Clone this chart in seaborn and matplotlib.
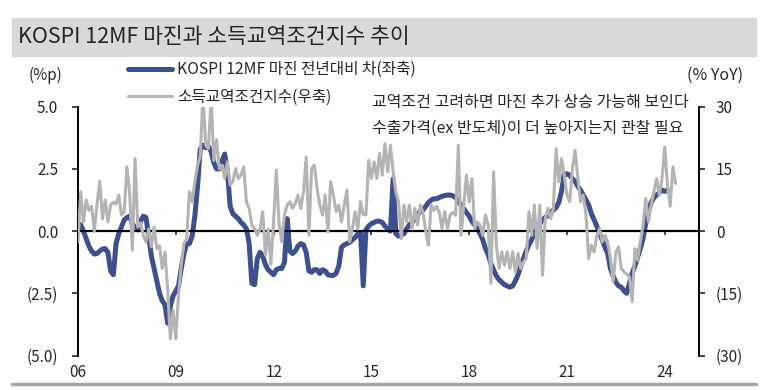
import numpy as np
import pandas as pd
import matplotlib
matplotlib.use("Agg")
import matplotlib.pyplot as plt
from matplotlib.patches import Rectangle
from matplotlib.lines import Line2D
from matplotlib.ticker import FuncFormatter
import seaborn as sns

# monthly values from Jan 2006
margin_chg = [  # KOSPI 12MF margin, yoy change (%p, left axis)
    0.3, 0.25, 0.0, -0.3, -0.6, -0.8, -0.92, -0.9, -0.8, -0.72, -0.7, -0.85,
    -1.6, -1.75, -0.5, -0.1, 0.17, 0.45, 0.55, 0.6, 0.3, 0.15, 0.05, 0.4,
    0.6, 0.55, -0.2, -1.0, -1.5, -2.0, -2.5, -2.8, -2.95, -3.7, -3.0, -2.6,
    -2.4, -2.2, -1.5, -0.9, -0.5, -0.5, -0.2, 0.6, 1.8, 3.3, 3.45, 3.35,
    3.4, 3.2, 2.75, 2.5, 2.5, 2.8, 3.1, 2.4, 1.0, 0.7, 0.6, 0.5,
    0.35, 0.25, 0.1, -0.5, -2.1, -2.15, -1.1, -0.85, -1.0, -1.35, -1.55, -1.65,
    -1.75, -1.55, -1.5, -1.5, -1.25, 0.5, -0.8, -0.9, -0.8, -0.6, -0.5, -0.55,
    -0.85, -1.6, -1.65, -1.55, -1.55, -1.7, -1.55, -1.6, -1.75, -1.78, -1.78, -1.7,
    -1.4, -0.65, -0.55, -0.5, -0.45, -0.35, -0.25, -0.12, -0.05, -2.2, 0.05, 0.2,
    0.3, 0.35, 0.4, 0.4, 0.35, 0.2, 0.1, 0.0, 2.1, -0.1, -0.2, -0.15,
    -0.1, 0.1, 0.25, 0.35, 0.5, 0.65, 0.8, 0.85, 1.0, 1.15, 1.25, 1.3,
    1.3, 1.35, 1.4, 1.43, 1.45, 1.45, 1.42, 1.35, 1.2, 1.05, 0.9, 0.75,
    0.6, 0.4, 0.25, 0.1, -0.1, -0.35, -0.7, -0.95, -1.3, -1.55, -1.8, -1.95,
    -2.05, -2.15, -2.2, -2.25, -2.2, -2.0, -1.75, -1.4, -1.1, -0.8, -0.55, -0.35,
    -0.05, 0.15, 0.3, 0.45, 0.55, 0.65, 0.75, 0.85, 0.95, 1.15, 1.6, 2.3,
    2.3, 2.25, 2.1, 2.0, 1.8, 1.65, 1.45, 1.25, 1.05, 0.7, 0.45, 0.2,
    -0.1, -0.35, -0.65, -0.9, -1.5, -1.8, -2.05, -2.2, -2.25, -2.4, -2.5, -2.1,
    -1.7, -1.4, -1.05, -0.7, -0.3, 0.3, 0.8, 1.15, 1.35, 1.45, 1.55, 1.65,
    1.6, 1.65,
]

income_tot = [  # income terms of trade index, % YoY (right axis)
    -2.5, 9.5, 2.2, 7.5, 5.0, 6.0, 0.0, 6.5, 12.0, 3.0, 7.5, 2.2,
    6.3, 7.0, 6.5, 8.7, 3.9, 4.7, 15.5, 9.0, -4.6, 17.5, 1.0, 2.0,
    -1.0, -2.6, 0.5, -3.8, 1.0, -4.2, -3.5, -9.0, -5.0, -14.0, -26.0, -19.0,
    -25.9, -15.4, -8.2, -3.0, -1.8, 9.5, 7.0, 11.9, 15.9, 18.0, 33.0, 20.7,
    19.9, 32.0, 17.0, 22.0, 15.0, 15.9, 12.7, 16.7, 11.1, 11.9, 15.1, 12.7,
    13.5, 15.5, 7.0, 5.5, 1.4, 0.6, -1.0, 0.6, 4.7, -5.8, 0.5, -8.0,
    2.2, 14.7, 2.0, -2.6, 3.9, 6.3, 7.1, 5.5, 6.7, 8.7, 5.5, 9.5,
    17.9, -1.0, 15.1, 15.9, 10.3, 6.3, 3.9, 8.7, -0.2, 11.9, 8.7, 4.7,
    6.3, 2.2, 6.3, 9.9, -2.6, 0.5, 4.7, 0.5, 7.1, 4.0, 3.9, 17.1,
    12.7, 16.7, 12.7, 18.7, 13.5, 21.1, 14.3, 20.7, 14.3, 9.5, 7.1, -1.8,
    6.3, 2.2, 6.3, 0.5, 5.5, 1.5, 6.3, 4.5, 0.0, -3.4, 6.3, 5.0,
    6.0, 4.5, 0.6, 4.7, 0.6, 3.9, 4.5, 3.8, 20.7, -1.0, 6.3, 13.5,
    7.1, 12.7, 0.6, 2.2, 1.4, -1.0, 3.9, 1.5, -12.6, 14.3, -3.4, -9.0,
    -5.0, -8.2, -5.0, -9.0, -5.0, -9.8, -5.4, -9.0, -7.4, -6.6, 4.7, -1.0,
    6.3, -4.2, 6.3, -10.6, 3.0, 5.5, 3.0, 5.5, 19.9, 11.9, 17.5, 13.5,
    8.7, 7.1, 15.1, 19.5, 12.7, 7.1, 8.7, 3.9, -6.6, -3.4, -5.0, -1.0,
    0.6, -2.6, -1.0, -2.6, -6.6, -12.2, -5.0, -3.8, -9.0, -9.8, -10.4, -11.0,
    -17.0, -4.2, -7.0, -2.6, 1.4, 7.9, 2.2, 6.3, 9.5, 12.7, 8.7, 12.7,
    20.3, 11.1, 6.0, 15.5, 11.5,
]

year_ticks = [2006, 2009, 2012, 2015, 2018, 2021, 2024]
year_labels = ["06", "09", "12", "15", "18", "21", "24"]
left_ticks = [5.0, 2.5, 0.0, -2.5, -5.0]
right_ticks = [30, 15, 0, -15, -30]

title = "KOSPI 12MF 마진과 소득교역조건지수 추이"
label_margin = "KOSPI 12MF 마진 전년대비 차(좌축)"
label_tot = "소득교역조건지수(우축)"
note = ["교역조건 고려하면 마진 추가 상승 가능해 보인다",
        "수출가격(ex 반도체)이 더 높아지는지 관찰 필요"]

BLUE = "#3d4f8e"
GRAY = "#b4b4b4"

df_m = pd.DataFrame({"year": 2006 + np.arange(len(margin_chg)) / 12, "val": margin_chg})
df_t = pd.DataFrame({"year": 2006 + np.arange(len(income_tot)) / 12, "val": income_tot})

sns.set_style("ticks")
plt.rcParams["font.family"] = ["Noto Sans CJK KR", "DejaVu Sans"]

fig = plt.figure(figsize=(7.68, 3.9), dpi=100)

# title bar
fig.patches.append(Rectangle((12 / 768, 1 - 56 / 390), 744 / 768, 38 / 390,
                             transform=fig.transFigure, color="#d9d9d9", zorder=0))
fig.text(18 / 768, 1 - 37 / 390, title, fontsize=15.5, va="center", ha="left")
# bottom rule
fig.add_artist(Line2D([12 / 768, 756 / 768], [1 - 384 / 390] * 2, transform=fig.transFigure,
                      color="#a6a6a6", lw=2.5))

ax = fig.add_axes([77.7 / 768, 1 - 355.6 / 390, 621.6 / 768, 248.9 / 390])
ax2 = ax.twinx()

sns.lineplot(data=df_m, x="year", y="val", ax=ax, color=BLUE, lw=3.6, legend=False)
sns.lineplot(data=df_t, x="year", y="val", ax=ax2, color=GRAY, lw=2.2, legend=False)

ax.set_xlim(2005.99, 2025.06)
ax.set_ylim(-5, 5)
ax2.set_ylim(-30, 30)
ax.set_xlabel("")
ax.set_ylabel("")
ax2.set_ylabel("")

for s in ["top", "right"]:
    ax.spines[s].set_visible(False)
for s in ["top", "left", "bottom"]:
    ax2.spines[s].set_visible(False)
ax.spines["bottom"].set_position(("data", 0))
ax.spines["bottom"].set_linewidth(1.6)
ax.spines["left"].set_linewidth(1.4)
ax2.spines["right"].set_linewidth(1.4)
for s in ["bottom", "left"]:
    ax.spines[s].set_color("black")
ax2.spines["right"].set_color("black")

ax.set_xticks(year_ticks)
ax.tick_params(axis="x", direction="out", length=3, width=1.2, labelbottom=False)
ax.set_yticks(left_ticks)
ax.yaxis.set_major_formatter(FuncFormatter(lambda v, p: f"({abs(v):.1f})" if v < 0 else f"{v:.1f}"))
ax.tick_params(axis="y", direction="out", length=4, width=1.2, labelsize=11, pad=10)
ax2.set_yticks(right_ticks)
ax2.yaxis.set_major_formatter(FuncFormatter(lambda v, p: f"({abs(v):.0f})" if v < 0 else f"{v:.0f}"))
ax2.tick_params(axis="y", direction="out", length=4, width=1.2, labelsize=11, pad=8)

# year labels below the plot
sec = ax.secondary_xaxis(0.0)
sec.set_xticks(year_ticks)
sec.set_xticklabels(year_labels)
sec.tick_params(axis="x", length=0, labelsize=11, pad=6)
sec.spines["bottom"].set_visible(False)

fig.text(45 / 768, 1 - 75 / 390, "(%p)", fontsize=11, ha="center", va="center")
fig.text(715 / 768, 1 - 75 / 390, "(% YoY)", fontsize=11.5, ha="center", va="center")

handles = [Line2D([], [], color=BLUE, lw=3.6), Line2D([], [], color=GRAY, lw=2.2)]
fig.legend(handles, [label_margin, label_tot], loc="upper left",
           bbox_to_anchor=(128 / 768, 1 - 61 / 390), frameon=False, fontsize=11.3,
           handlelength=2.8, handletextpad=0.35, labelspacing=0.68,
           borderpad=0, borderaxespad=0)

fig.text(372 / 768, 1 - 103 / 390, note[0], fontsize=11.5, ha="left", va="center")
fig.text(372 / 768, 1 - 128 / 390, note[1], fontsize=11.5, ha="left", va="center")

fig.savefig("out.png", dpi=100)
